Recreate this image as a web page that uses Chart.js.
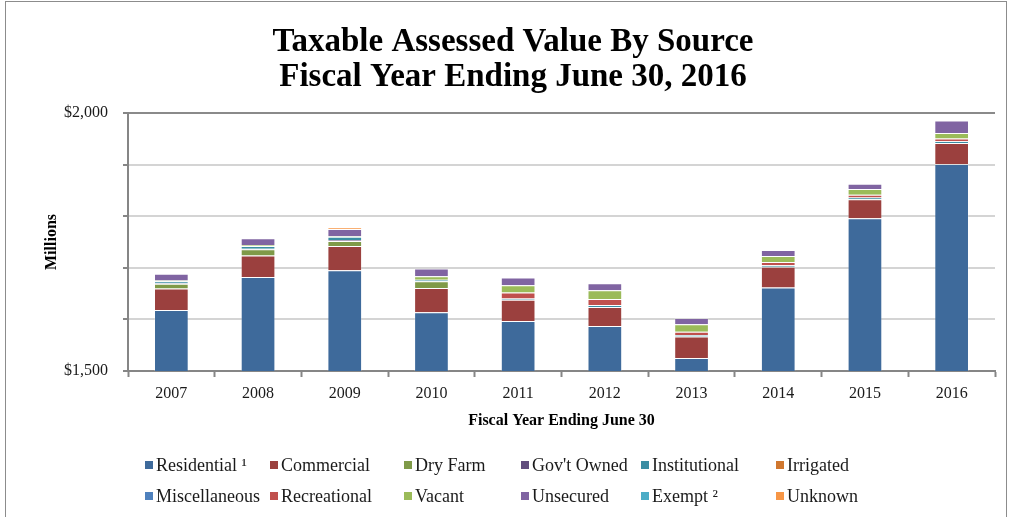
<!DOCTYPE html>
<html>
<head>
  <title>Taxable Assessed Value By Source</title>
  <script src="https://cdn.jsdelivr.net/npm/chart.js"></script>
  <style>
    body { margin: 0; background: #fff; }
    #wrap { position: relative; width: 1011px; height: 517px; overflow: hidden; }
    #frame { position: absolute; left: 5px; top: 1px; width: 1002px; height: 540px; border: 1px solid #8c8c8c; box-sizing: border-box; }
    #chart { position: absolute; left: 0; top: 0; }
    #legend { position: absolute; left: 0; top: 0; width: 1011px; height: 517px; pointer-events: none;
      font-family: 'Liberation Serif', serif; font-size: 18px; color: #1a1a1a; }
    .item { position: absolute; display: flex; align-items: center; white-space: nowrap; }
    .box { width: 8px; height: 8px; margin-right: 3px; }
  </style>
</head>
<body>
  <div id="wrap">
    <div id="frame"></div>
    <canvas id="chart" width="1011" height="517"></canvas>
    <div id="legend"></div>
  </div>

  <script>
    // values in millions of dollars
    const years = ['2007', '2008', '2009', '2010', '2011', '2012', '2013', '2014', '2015', '2016'];
    const residential   = [1618, 1682, 1695, 1614, 1597, 1587, 1525, 1662, 1796, 1901];
    const commercial    = [42, 42, 47, 47, 41, 37, 42, 40, 37, 41];
    const dryFarm       = [9, 12, 10, 13, 0, 0, 0, 0, 0, 0];
    const govtOwned     = [1, 1, 2, 0, 0, 0, 0, 0, 0, 0];
    const institutional = [4, 5, 6, 3, 2.5, 4, 2.7, 2.7, 3.3, 3.3];
    const irrigated     = [0, 0, 0, 0, 0, 0, 0, 0, 0, 0];
    const miscellaneous = [0, 0, 0, 0, 0, 0, 0, 0, 0, 0];
    const recreational  = [0, 0, 0, 0, 11.6, 11.6, 6.4, 6.4, 5, 5.2];
    const vacant        = [1.5, 2, 1, 6.4, 14.2, 16.8, 14.3, 11.6, 11.6, 10.5];
    const unsecured     = [13, 13, 14, 15, 15, 13.6, 12.4, 11.6, 9.7, 24.6];
    const exempt        = [0, 0, 0, 0, 0, 0, 0, 0, 0, 0];
    const unknown       = [0, 0, 3.5, 0, 0, 0, 0, 0, 0, 0];
    const yTicks = [1500, 2000];

    const series = [
      ['Residential \u00b9', residential, '#3e6a9b'],
      ['Commercial', commercial, '#9b403e'],
      ['Dry Farm', dryFarm, '#7f9a48'],
      ["Gov't Owned", govtOwned, '#614d7d'],
      ['Institutional', institutional, '#3a8da3'],
      ['Irrigated', irrigated, '#d0772e'],
      ['Miscellaneous', miscellaneous, '#4f81bd'],
      ['Recreational', recreational, '#c0504d'],
      ['Vacant', vacant, '#9bbb59'],
      ['Unsecured', unsecured, '#8064a2'],
      ['Exempt \u00b2', exempt, '#4bacc6'],
      ['Unknown', unknown, '#f79646']
    ];

    const serif = 'Liberation Serif';

    const chart = new Chart(document.getElementById('chart'), {
      type: 'bar',
      data: {
        labels: years,
        datasets: series.map(s => ({
          label: s[0],
          data: s[1],
          backgroundColor: s[2],
          borderColor: 'rgba(255,255,255,0.2)',
          borderWidth: ctx => ctx.raw ? 1 : 0,
          categoryPercentage: 1,
          barPercentage: 0.4
        }))
      },
      options: {
        responsive: false,
        animation: false,
        layout: { padding: { left: 31, right: 16, top: 0, bottom: 86 } },
        plugins: {
          legend: { display: false },
          tooltip: { enabled: false },
          title: {
            display: true,
            text: ['Taxable Assessed Value By Source', 'Fiscal Year Ending June 30, 2016'],
            color: '#000',
            font: { family: serif, size: 33, weight: 'bold', lineHeight: 1.06 },
            padding: { top: 25, bottom: 18 }
          }
        },
        scales: {
          x: {
            stacked: true,
            grid: { offset: true, drawOnChartArea: false, tickLength: 6, tickColor: '#868686', tickWidth: 2 },
            border: { color: '#868686', width: 2 },
            ticks: { color: '#1a1a1a', font: { family: serif, size: 16 }, padding: 7 },
            title: {
              display: true, text: 'Fiscal Year Ending June 30', color: '#000',
              font: { family: serif, size: 16, weight: 'bold' }, padding: { top: 0, bottom: 1 }
            },
            afterFit: s => { s.height = 60; }
          },
          y: {
            stacked: true,
            min: 1500,
            max: 2000,
            grid: {
              color: c => c.tick && c.tick.value === 2000 ? '#8a8a8a' : '#d4d4d4',
              lineWidth: 2,
              tickLength: 5,
              tickColor: '#868686'
            },
            border: { color: '#868686', width: 2 },
            ticks: {
              stepSize: 100,
              padding: 15,
              color: '#1a1a1a',
              font: { family: serif, size: 16 },
              callback: v => yTicks.includes(v) ? '$' + v.toLocaleString('en-US') : ''
            },
            title: {
              display: true, text: 'Millions', color: '#000',
              font: { family: serif, size: 16, weight: 'bold' }, padding: { top: 11, bottom: 0 }
            },
            afterFit: s => { s.width = 97; }
          }
        }
      }
    });

    // legend laid out in fixed columns, two rows
    const colX = [145, 270, 404, 521, 641, 776];
    const rowY = [465, 496];
    const legend = document.getElementById('legend');
    chart.data.datasets.forEach((ds, i) => {
      const item = document.createElement('div');
      item.className = 'item';
      item.style.left = colX[i % 6] + 'px';
      item.style.top = (rowY[Math.floor(i / 6)] - 10) + 'px';
      item.style.height = '20px';
      const box = document.createElement('span');
      box.className = 'box';
      box.style.background = ds.backgroundColor;
      const txt = document.createElement('span');
      txt.textContent = ds.label;
      item.appendChild(box);
      item.appendChild(txt);
      legend.appendChild(item);
    });
  </script>
</body>
</html>
